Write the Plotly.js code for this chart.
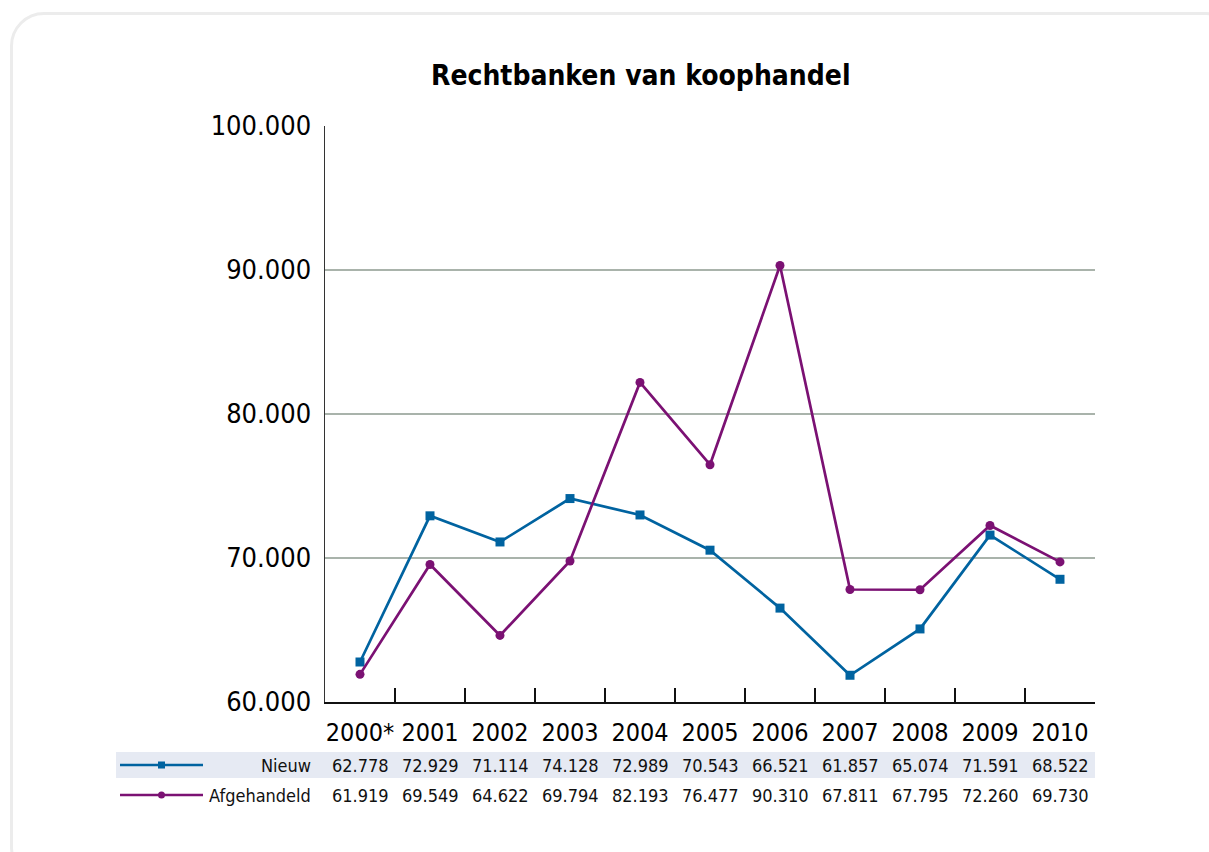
<!DOCTYPE html>
<html>
<head>
<meta charset="utf-8">
<script src="https://cdn.plot.ly/plotly-3.0.1.min.js"></script>
<style>
html,body{margin:0;padding:0;background:#fff;}
#frame{position:absolute;left:10px;top:12px;width:1230px;height:870px;border:3px solid #ececec;border-radius:34px;box-sizing:border-box;}
#chart{position:absolute;left:0;top:0;width:1209px;height:852px;}
#chart svg text{font-stretch:condensed !important;}
</style>
</head>
<body>
<div id="frame"></div>
<div id="chart"></div>
<script>
const years = ["2000*","2001","2002","2003","2004","2005","2006","2007","2008","2009","2010"];
const nieuw = [62778,72929,71114,74128,72989,70543,66521,61857,65074,71591,68522];
const afgehandeld = [61919,69549,64622,69794,82193,76477,90310,67811,67795,72260,69730];
const seriesNames = ["Nieuw","Afgehandeld"];
const yTicks = [60000,70000,80000,90000,100000];
const yTickText = ["60.000","70.000","80.000","90.000","100.000"];

const FONT = "'DejaVu Sans Condensed','DejaVu Sans',sans-serif";
const BLUE = "#0063a0";
const PURPLE = "#7b1173";

function fmt(v){ const s = String(v); return s.slice(0, s.length-3) + "." + s.slice(-3); }

const traces = [
  {x: years, y: nieuw, name: seriesNames[0], type: "scatter", mode: "lines+markers",
   line: {color: BLUE, width: 2.7}, marker: {symbol: "square", size: 9, color: BLUE}},
  {x: years, y: afgehandeld, name: seriesNames[1], type: "scatter", mode: "lines+markers",
   line: {color: PURPLE, width: 2.7}, marker: {symbol: "circle", size: 9, color: PURPLE}}
];

const rowY = [-0.1094, -0.1615];
const px = v => (v - 325) / 770;
const annotations = [];
[nieuw, afgehandeld].forEach((arr, r) => {
  arr.forEach((v, i) => {
    annotations.push({x: i, y: rowY[r], xref: "x", yref: "paper", text: fmt(v),
      showarrow: false, xanchor: "center", yanchor: "middle", font: {family: FONT, size: 18, color: "#111"}});
  });
  annotations.push({x: px(313), y: rowY[r], xref: "paper", yref: "paper", text: seriesNames[r],
    showarrow: false, xanchor: "right", yanchor: "middle", font: {family: FONT, size: 18, color: "#111"}});
});

const shapes = [
  {type: "rect", xref: "paper", yref: "paper", x0: px(116), x1: 1.0, y0: -0.0868, y1: -0.1319,
   fillcolor: "#e6eaf3", line: {width: 0}, layer: "below"},
  {type: "line", xref: "paper", yref: "paper", x0: px(120), x1: px(203), y0: rowY[0], y1: rowY[0], line: {color: BLUE, width: 2.5}},
  {type: "rect", xref: "paper", yref: "paper", x0: px(158), x1: px(165), y0: rowY[0]-0.0061, y1: rowY[0]+0.0061, fillcolor: BLUE, line: {width: 0}},
  {type: "line", xref: "paper", yref: "paper", x0: px(120), x1: px(203), y0: rowY[1], y1: rowY[1], line: {color: PURPLE, width: 2.5}},
  {type: "circle", xref: "paper", yref: "paper", x0: px(158), x1: px(165), y0: rowY[1]-0.0061, y1: rowY[1]+0.0061, fillcolor: PURPLE, line: {width: 0}}
];

const layout = {
  width: 1209, height: 852,
  margin: {l: 325, r: 114, t: 126, b: 150},
  paper_bgcolor: "rgba(0,0,0,0)", plot_bgcolor: "rgba(0,0,0,0)",
  showlegend: false,
  title: {text: "<b>Rechtbanken van koophandel</b>", x: 0.530, xref: "container", xanchor: "center", y: 0.912, yanchor: "middle",
    font: {family: FONT, size: 28, color: "#000"}},
  xaxis: {type: "category", range: [-0.5, 10.5], tickson: "boundaries", ticks: "inside", ticklen: 14,
    tickcolor: "#111", tickwidth: 1.3, showline: true, linecolor: "#111", linewidth: 1.5, showgrid: false,
    tickangle: 0, tickfont: {family: FONT, size: 25, color: "#000"}, ticklabelstandoff: 7, fixedrange: true},
  yaxis: {range: [60000, 100000], tickvals: yTicks, ticktext: yTickText, ticks: "", showline: true,
    linecolor: "#333", linewidth: 1.5, showgrid: true, gridcolor: "#a9b3ab", gridwidth: 1.2, zeroline: false,
    tickfont: {family: FONT, size: 27, color: "#000"}, ticklabelstandoff: 7, fixedrange: true},
  annotations: annotations,
  shapes: shapes
};

Plotly.newPlot("chart", traces, layout, {displayModeBar: false, staticPlot: true});
</script>
</body>
</html>
